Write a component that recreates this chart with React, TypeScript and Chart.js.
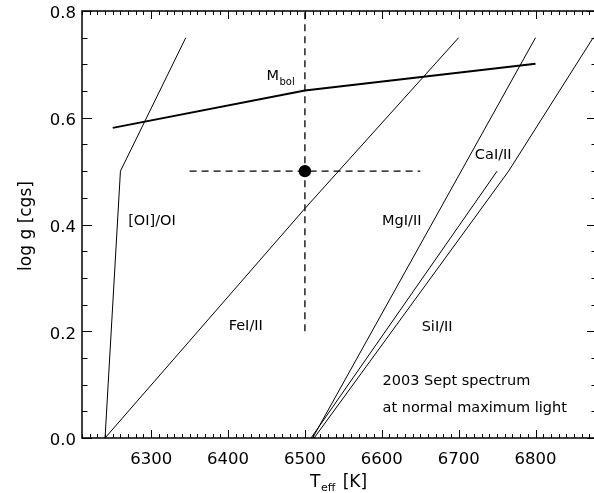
import React, { useEffect, useRef } from 'react';
import { Chart, registerables } from 'chart.js';

Chart.register(...registerables);

// Axis ranges and tick labels
const X_MIN = 6210;
const X_MAX = 6880;
const Y_MIN = 0;
const Y_MAX = 0.8;
const xTickValues = [6300, 6400, 6500, 6600, 6700, 6800];
const yTickValues = [0.0, 0.2, 0.4, 0.6, 0.8];
const xMinorStep = 10;
const yMinorStep = 0.05;

// Ionisation / excitation balance curves (Teff, log g)
const oiTeff = [6240, 6260, 6345];
const oiLogg = [0.0, 0.5, 0.75];
const feTeff = [6240, 6500, 6700];
const feLogg = [0.0, 0.43, 0.75];
const mgTeff = [6510, 6800];
const mgLogg = [0.0, 0.75];
const caTeff = [6508, 6750];
const caLogg = [0.0, 0.5];
const siTeff = [6512, 6765, 6875];
const siLogg = [0.0, 0.5, 0.75];
const mbolTeff = [6250, 6500, 6800];
const mbolLogg = [0.581, 0.651, 0.701];

// Adopted parameters with error bars
const adoptedTeff = [6500];
const adoptedLogg = [0.5];
const vErrTeff = [6500, 6500];
const vErrLogg = [0.2, 0.8];
const hErrTeff = [6350, 6650];
const hErrLogg = [0.5, 0.5];

// In-plot labels
const curveLabels = ['[OI]/OI', 'FeI/II', 'MgI/II', 'CaI/II', 'SiI/II'];
const curveLabelTeff = [6301, 6423, 6626, 6745, 6672];
const curveLabelLogg = [0.407, 0.209, 0.407, 0.53, 0.207];
const noteLines = ['2003 Sept spectrum', 'at normal maximum light'];
const noteTeff = [6601, 6601];
const noteLogg = [0.1055, 0.0556];
const mbolLabelTeff = 6450;
const mbolLabelLogg = 0.68;

const FONT = '"DejaVu Sans", sans-serif';

const pts = (xs: number[], ys: number[]) => xs.map((x, i) => ({ x, y: ys[i] }));

const lineDs = (xs: number[], ys: number[], width = 1, dash: number[] = []) => ({
  data: pts(xs, ys),
  showLine: true,
  borderColor: '#000',
  borderWidth: width,
  borderDash: dash,
  pointRadius: 0,
  fill: false,
  tension: 0,
});

const decorPlugin = {
  id: 'decor',
  afterDraw(chart: any) {
    const ctx = chart.ctx as CanvasRenderingContext2D;
    const xs = chart.scales.x;
    const ys = chart.scales.y;
    const { left, right, top, bottom } = chart.chartArea;
    ctx.save();
    ctx.strokeStyle = '#000';
    ctx.fillStyle = '#000';
    ctx.lineWidth = 1.5;
    ctx.strokeRect(left, top, right - left, bottom - top);

    ctx.lineWidth = 1;
    ctx.beginPath();
    for (let v = X_MIN; v <= X_MAX + 1e-6; v += xMinorStep) {
      const major = Math.abs(v % 100) < 1e-6;
      const len = major ? 8 : 4;
      const px = Math.round(xs.getPixelForValue(v)) + 0.5;
      ctx.moveTo(px, bottom);
      ctx.lineTo(px, bottom - len);
      ctx.moveTo(px, top);
      ctx.lineTo(px, top + len);
    }
    for (let i = 0; i <= Math.round((Y_MAX - Y_MIN) / yMinorStep); i++) {
      const v = Y_MIN + i * yMinorStep;
      const major = i % 4 === 0;
      const len = major ? 10 : 5.5;
      const py = Math.round(ys.getPixelForValue(v)) + 0.5;
      ctx.moveTo(left, py);
      ctx.lineTo(left + len, py);
      ctx.moveTo(right, py);
      ctx.lineTo(right - len, py);
    }
    ctx.stroke();

    // curve labels
    ctx.font = `14.5px ${FONT}`;
    ctx.textBaseline = 'middle';
    ctx.textAlign = 'center';
    curveLabels.forEach((t, i) => {
      ctx.fillText(t, xs.getPixelForValue(curveLabelTeff[i]), ys.getPixelForValue(curveLabelLogg[i]));
    });
    ctx.textAlign = 'left';
    noteLines.forEach((t, i) => {
      ctx.fillText(t, xs.getPixelForValue(noteTeff[i]), ys.getPixelForValue(noteLogg[i]));
    });

    // M_bol
    const mx = xs.getPixelForValue(mbolLabelTeff);
    const my = ys.getPixelForValue(mbolLabelLogg);
    ctx.textBaseline = 'alphabetic';
    ctx.font = `14.5px ${FONT}`;
    ctx.fillText('M', mx, my + 5.3);
    const mw = ctx.measureText('M').width;
    ctx.font = `10px ${FONT}`;
    ctx.fillText('bol', mx + mw + 0.5, my + 9.5);

    // x title: T_eff [K]
    ctx.font = `17px ${FONT}`;
    let tx = 310;
    const ty = 487;
    ctx.fillText('T', tx, ty);
    tx += ctx.measureText('T').width + 0.5;
    ctx.font = `11px ${FONT}`;
    ctx.fillText('eff', tx, ty + 3.5);
    tx += ctx.measureText('eff').width;
    ctx.font = `17px ${FONT}`;
    ctx.fillText(' [K]', tx + 2, ty);

    // y title
    ctx.translate(27, 226);
    ctx.rotate(-Math.PI / 2);
    ctx.textAlign = 'center';
    ctx.textBaseline = 'middle';
    ctx.font = `17px ${FONT}`;
    ctx.fillText('log g [cgs]', 0, 0);
    ctx.restore();
  },
};

export default function App() {
  const ref = useRef<HTMLCanvasElement>(null);
  useEffect(() => {
    document.body.style.margin = '0';
    const canvas = ref.current!;
    const chart = new Chart(canvas, {
      type: 'scatter',
      data: {
        datasets: [
          lineDs(oiTeff, oiLogg),
          lineDs(feTeff, feLogg),
          lineDs(mgTeff, mgLogg),
          lineDs(caTeff, caLogg),
          lineDs(siTeff, siLogg),
          lineDs(mbolTeff, mbolLogg, 2),
          lineDs(vErrTeff, vErrLogg, 1.3, [7, 5]),
          lineDs(hErrTeff, hErrLogg, 1.3, [7, 5]),
          {
            data: pts(adoptedTeff, adoptedLogg),
            showLine: false,
            pointRadius: 6.2,
            pointBackgroundColor: '#000',
            pointBorderColor: '#000',
            pointBorderWidth: 0,
          },
        ] as any,
      },
      options: {
        responsive: false,
        animation: false,
        events: [],
        layout: { autoPadding: false, padding: { top: 11, right: 5, left: 0, bottom: 0 } },
        plugins: { legend: { display: false }, tooltip: { enabled: false } },
        scales: {
          x: {
            type: 'linear',
            min: X_MIN,
            max: X_MAX,
            afterBuildTicks: (s: any) => {
              s.ticks = xTickValues.map((v) => ({ value: v }));
            },
            afterFit: (s: any) => {
              s.height = 55;
              s.paddingLeft = 0;
              s.paddingRight = 0;
            },
            grid: { display: false, drawTicks: false },
            border: { display: false },
            ticks: {
              color: '#000',
              font: { family: FONT, size: 16.5 },
              padding: 12,
              maxRotation: 0,
              autoSkip: false,
              callback: (v: any) => String(v),
            },
          },
          y: {
            type: 'linear',
            min: Y_MIN,
            max: Y_MAX,
            afterBuildTicks: (s: any) => {
              s.ticks = yTickValues.map((v) => ({ value: v }));
            },
            afterFit: (s: any) => {
              s.width = 82;
              s.paddingTop = 0;
              s.paddingBottom = 0;
            },
            grid: { display: false, drawTicks: false },
            border: { display: false },
            ticks: {
              color: '#000',
              font: { family: FONT, size: 16.5 },
              padding: 6,
              labelOffset: 3,
              autoSkip: false,
              callback: (v: any) => Number(v).toFixed(1),
            },
          },
        },
      },
      plugins: [decorPlugin],
    });
    return () => chart.destroy();
  }, []);
  return (
    <div style={{ width: 594, height: 493, overflow: 'hidden', background: '#fff' }}>
      <canvas ref={ref} width={602} height={493} style={{ display: 'block', width: 602, height: 493 }} />
    </div>
  );
}
